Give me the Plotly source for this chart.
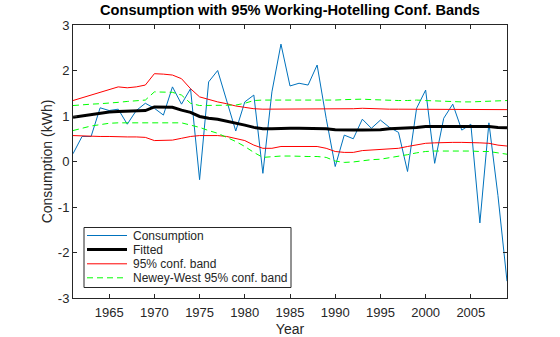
import plotly.graph_objects as go

years = list(range(1961, 2010))

consumption = [0.17, 0.55, 0.55, 1.18, 1.12, 1.15, 0.82, 1.12, 1.28, 1.17,
               1.02, 1.64, 1.26, 1.60, -0.40, 1.75, 2.00, 1.35, 0.67, 1.31,
               1.46, -0.26, 1.53, 2.58, 1.66, 1.72, 1.68, 2.12, 0.95, -0.11,
               0.58, 0.50, 0.93, 0.73, 0.91, 0.75, 0.64, -0.22, 1.17, 1.57,
               -0.04, 0.95, 1.26, 0.69, 0.82, -1.35, 0.85, -0.75, -2.63]

fitted = [0.97, 1.00, 1.03, 1.06, 1.09, 1.10, 1.11, 1.11, 1.12, 1.20,
          1.20, 1.19, 1.13, 1.08, 0.99, 0.95, 0.93, 0.89, 0.84, 0.80,
          0.75, 0.72, 0.72, 0.73, 0.73, 0.73, 0.73, 0.73, 0.72, 0.70,
          0.69, 0.69, 0.69, 0.69, 0.70, 0.72, 0.73, 0.73, 0.75, 0.77,
          0.77, 0.78, 0.78, 0.78, 0.78, 0.77, 0.77, 0.75, 0.74]

upper = [1.34, 1.40, 1.46, 1.52, 1.57, 1.64, 1.62, 1.64, 1.68, 1.93,
         1.92, 1.90, 1.82, 1.60, 1.42, 1.36, 1.31, 1.27, 1.22, 1.19,
         1.16, 1.15, 1.15, 1.15, 1.15, 1.15, 1.15, 1.15, 1.15, 1.16,
         1.16, 1.16, 1.17, 1.16, 1.15, 1.15, 1.15, 1.15, 1.15, 1.15,
         1.15, 1.15, 1.15, 1.15, 1.15, 1.15, 1.15, 1.14, 1.14]

lower = [0.57, 0.56, 0.56, 0.55, 0.55, 0.54, 0.54, 0.54, 0.53, 0.46,
         0.46, 0.47, 0.51, 0.55, 0.57, 0.57, 0.57, 0.55, 0.51, 0.46,
         0.36, 0.29, 0.29, 0.33, 0.33, 0.33, 0.33, 0.33, 0.29, 0.22,
         0.20, 0.20, 0.24, 0.25, 0.26, 0.27, 0.29, 0.33, 0.37, 0.40,
         0.41, 0.42, 0.42, 0.42, 0.42, 0.41, 0.40, 0.36, 0.34]

nw_upper = [1.23, 1.25, 1.26, 1.27, 1.28, 1.30, 1.32, 1.33, 1.35, 1.53,
            1.53, 1.52, 1.46, 1.28, 1.23, 1.23, 1.23, 1.24, 1.24, 1.28,
            1.34, 1.35, 1.35, 1.35, 1.34, 1.34, 1.34, 1.34, 1.34, 1.35,
            1.36, 1.37, 1.37, 1.36, 1.35, 1.35, 1.34, 1.34, 1.35, 1.34,
            1.33, 1.32, 1.32, 1.31, 1.31, 1.32, 1.33, 1.34, 1.34]

nw_lower = [0.68, 0.73, 0.78, 0.81, 0.84, 0.85, 0.85, 0.85, 0.85, 0.85,
            0.85, 0.85, 0.85, 0.80, 0.75, 0.68, 0.62, 0.53, 0.44, 0.33,
            0.20, 0.09, 0.11, 0.12, 0.12, 0.11, 0.11, 0.11, 0.09, 0.01,
            -0.02, -0.01, 0.02, 0.04, 0.05, 0.08, 0.11, 0.15, 0.19, 0.22,
            0.23, 0.23, 0.24, 0.24, 0.23, 0.22, 0.22, 0.19, 0.16]

x_ticks = [1965, 1970, 1975, 1980, 1985, 1990, 1995, 2000, 2005]
y_ticks = [-3, -2, -1, 0, 1, 2, 3]

legend_labels = ["Consumption", "Fitted", "95% conf. band", "Newey-West 95% conf. band"]

FONT = "Liberation Sans, Arial, sans-serif"
INK = "#262626"

W, H = 560, 337
ML, MR, MT, MB = 73, 53, 25, 39
PW, PH = W - ML - MR, H - MT - MB


def px(xp):
    return (xp - ML) / PW


def py(yp):
    return 1 - (yp - MT) / PH


styles = [
    dict(color="#0072BD", width=1),
    dict(color="black", width=3),
    dict(color="red", width=1),
    dict(color="#00FF00", width=1, dash="6px,4px"),
]

fig = go.Figure()
fig.add_trace(go.Scatter(x=years, y=consumption, mode="lines", name=legend_labels[0], line=styles[0]))
fig.add_trace(go.Scatter(x=years, y=fitted, mode="lines", name=legend_labels[1], line=styles[1]))
fig.add_trace(go.Scatter(x=years, y=upper, mode="lines", name=legend_labels[2], line=styles[2]))
fig.add_trace(go.Scatter(x=years, y=lower, mode="lines", name=legend_labels[2], line=styles[2]))
fig.add_trace(go.Scatter(x=years, y=nw_upper, mode="lines", name=legend_labels[3], line=styles[3]))
fig.add_trace(go.Scatter(x=years, y=nw_lower, mode="lines", name=legend_labels[3], line=styles[3]))

# manual legend (MATLAB style, compact rows)
shapes = [dict(type="rect", xref="paper", yref="paper",
               x0=px(84), x1=px(291), y0=py(287.5), y1=py(227.5),
               line=dict(color=INK, width=1), fillcolor="white", layer="above")]
annotations = []
row_y = [235.5, 249.5, 263.8, 277.8]
for lab, st, yy in zip(legend_labels, styles, row_y):
    ln = dict(color=st["color"], width=st["width"])
    if "dash" in st:
        ln["dash"] = st["dash"]
    shapes.append(dict(type="line", xref="paper", yref="paper",
                       x0=px(87), x1=px(127), y0=py(yy), y1=py(yy), line=ln, layer="above"))
    annotations.append(dict(xref="paper", yref="paper", x=px(131), y=py(yy),
                            xanchor="left", yanchor="middle", showarrow=False, text=lab,
                            font=dict(family=FONT, size=12, color=INK)))

axis_common = dict(showline=True, linecolor=INK, linewidth=1, mirror="ticks",
                   ticks="inside", ticklen=4, tickcolor=INK, showgrid=False,
                   zeroline=False, automargin=False,
                   tickfont=dict(family=FONT, size=13, color=INK))

fig.update_layout(
    width=W, height=H,
    margin=dict(l=ML, r=MR, t=MT, b=MB, autoexpand=False),
    paper_bgcolor="white", plot_bgcolor="white",
    showlegend=False,
    title=dict(text="<b>Consumption with 95% Working-Hotelling Conf. Bands</b>",
               x=0.5, xref="paper", xanchor="center", y=1, yref="container", yanchor="top", pad=dict(t=5),
               font=dict(family=FONT, size=14.6, color="black")),
    xaxis=dict(range=[1961, 2009], tickvals=x_ticks, ticktext=[str(v) for v in x_ticks],
               ticklabelstandoff=2,
               title=dict(text="Year", font=dict(family=FONT, size=14, color=INK), standoff=5),
               **axis_common),
    yaxis=dict(range=[-3, 3], tickvals=y_ticks, ticktext=[str(v) for v in y_ticks],
               title=dict(text="Consumption (kWh)", font=dict(family=FONT, size=14, color=INK), standoff=1),
               **axis_common),
    shapes=shapes,
    annotations=annotations,
)

fig.write_html("out.html")
